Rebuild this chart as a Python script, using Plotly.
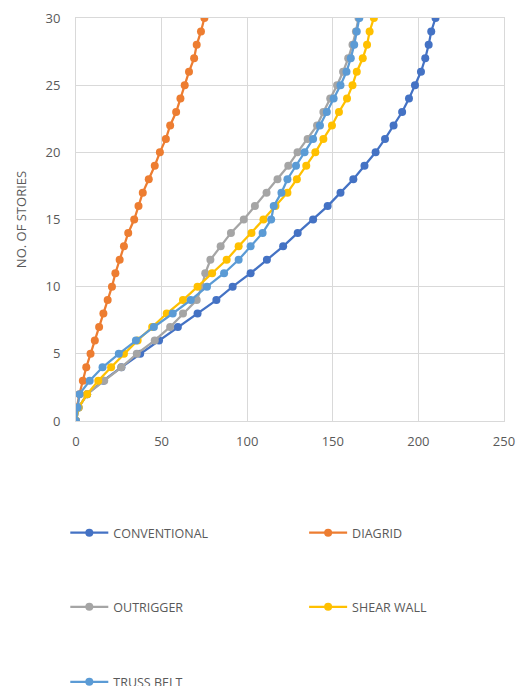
import plotly.graph_objects as go

# Lateral displacement (mm) per storey for each structural system
stories = list(range(0, 31))

conventional = [0, 1.5, 6.5, 16, 26.5, 37.5, 48.5, 59.5, 71, 82, 91.5, 102, 111.5, 121, 129.5,
                138.5, 147, 154.5, 162, 168.5, 175, 180.5, 185.5, 190.5, 194.5, 198, 201.5,
                204, 206, 207.5, 210]
diagrid = [0, 0.5, 2, 4, 6, 8.5, 11, 13.5, 16, 18.5, 21, 23, 25.5, 28, 30.5, 34, 36.5, 39,
           42.5, 46, 49, 52.5, 55, 58.5, 61, 63.5, 66, 69, 70.5, 73, 75]
outrigger = [0, 1.5, 6.5, 16.5, 26.5, 35.5, 46, 55, 62.5, 70.5, 73.5, 75.5, 78.5, 84.5, 90.5,
             98, 104.5, 111.3, 117.7, 124, 129.4, 135.3, 140.8, 144.5, 148.5, 152.5, 156,
             159, 161.5, 163.5, 165]
shear_wall = [0, 1.5, 6.5, 13, 20.5, 28, 36, 44.5, 53, 62.5, 71, 79.5, 88, 95, 102.5, 109.5,
              116.5, 123.5, 129, 134.5, 139.8, 144.5, 149.5, 153.6, 158.3, 161.5, 164,
              167.5, 170, 171.5, 174]
truss_belt = [0, 1, 2, 8, 15.5, 25, 35, 45.5, 56.5, 67, 76.5, 86.5, 95, 102, 109, 114, 115.5,
              120, 123.5, 128.5, 133.5, 138.5, 142.5, 146.5, 150.5, 154.5, 158, 160.5, 162.5,
              164, 165.5]

series = [
    ("CONVENTIONAL", conventional, "#4472C4"),
    ("DIAGRID", diagrid, "#ED7D31"),
    ("OUTRIGGER", outrigger, "#A5A5A5"),
    ("SHEAR WALL", shear_wall, "#FFC000"),
    ("TRUSS BELT", truss_belt, "#5B9BD5"),
]

x_ticks = [0, 50, 100, 150, 200, 250]
y_ticks = [0, 5, 10, 15, 20, 25, 30]

FONT = "Open Sans"
TXT = "#595959"
GRID = "#D9D9D9"

fig = go.Figure()
legend_names = ["legend", "legend2", "legend3", "legend4", "legend5"]
for (name, vals, color), lg in zip(series, legend_names):
    fig.add_trace(go.Scatter(
        x=vals, y=stories, name=name, mode="lines+markers",
        line=dict(color=color, width=2.25),
        marker=dict(color=color, size=8, symbol="circle"),
        legend=lg,
    ))

# legend entries laid out in a 2-column grid below the plot
grid_pos = [(-0.025, -0.278), (0.533, -0.278), (-0.025, -0.462), (0.533, -0.462), (-0.025, -0.648)]
legend_style = dict(font=dict(family=FONT, size=12.5, color=TXT), bgcolor="rgba(0,0,0,0)",
                    xanchor="left", yanchor="middle", itemwidth=38)
layout_legends = {}
for lg, (lx, ly) in zip(legend_names, grid_pos):
    layout_legends[lg] = dict(x=lx, y=ly, **legend_style)

fig.update_layout(
    width=526, height=686,
    margin=dict(l=76, r=22, t=18, b=265, autoexpand=False),
    paper_bgcolor="white", plot_bgcolor="white",
    showlegend=True,
    font=dict(family=FONT, color=TXT),
    **layout_legends,
)

fig.update_xaxes(
    range=[0, 250], tickvals=x_ticks, showgrid=True, gridcolor=GRID, gridwidth=1,
    zeroline=False, showline=True, linecolor=GRID, mirror=True,
    tickfont=dict(family=FONT, size=13, color=TXT), ticks="", ticklabelstandoff=8,
)
fig.update_yaxes(
    range=[0, 30], tickvals=y_ticks, showgrid=True, gridcolor=GRID, gridwidth=1,
    zeroline=False, showline=True, linecolor=GRID, mirror=True,
    tickfont=dict(family=FONT, size=13, color=TXT), ticks="", ticklabelstandoff=12,
    title=dict(text="NO. OF STORIES", font=dict(family=FONT, size=13, color=TXT), standoff=15),
)

fig.write_html("out.html")
